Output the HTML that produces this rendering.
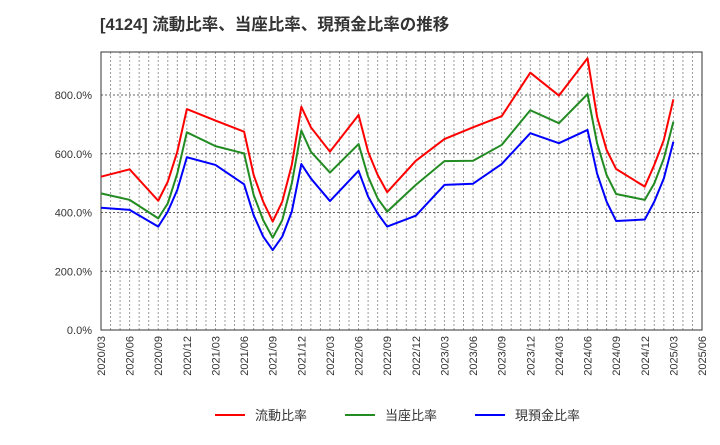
<!DOCTYPE html>
<html><head><meta charset="utf-8"><style>
body{margin:0;background:#fff;font-family:"Liberation Sans","Noto Sans CJK JP",sans-serif;}
</style></head><body>
<svg width="720" height="440" xmlns="http://www.w3.org/2000/svg">
<text x="100" y="30" font-size="16.5" font-weight="bold" fill="#333" font-family="Liberation Sans, Noto Sans CJK JP, sans-serif">[4124]  流動比率、当座比率、現預金比率の推移</text>
<g id="grid"></g>
<g id="axes"></g>
<g id="series"></g>
<g id="legend"></g>
</svg>
<script>
const months=[0,3,6,7,8,9,12,15,16,17,18,19,20,21,22,24,27,28,29,30,33,36,39,42,45,48,51,52,53,54,57,58,59,60];
const currentRatio=[522,547,440,505,607,752,713,675,528,437,369,437,562,760,690,607,732,607,528,469,576,650,690,728,876,798,925,726,613,548,488,562,647,785];
const quickRatio=[465,443,380,431,533,673,626,601,460,374,314,374,499,679,607,536,633,522,448,403,494,575,576,630,748,704,803,636,528,463,443,499,584,709];
const cashRatio=[416,409,352,403,477,588,562,496,391,318,272,318,403,565,516,439,542,454,397,352,389,494,498,565,670,636,681,533,437,371,376,437,516,641];
const yTicks=[0,200,400,600,800];
const xLabels=["2020/03","2020/06","2020/09","2020/12","2021/03","2021/06","2021/09","2021/12","2022/03","2022/06","2022/09","2022/12","2023/03","2023/06","2023/09","2023/12","2024/03","2024/06","2024/09","2024/12","2025/03","2025/06"];
const seriesNames=["流動比率","当座比率","現預金比率"];
const colors=["#ff0000","#228b22","#0000ff"];
const L=101,R=702,T=52,B=330,N=63;
const xs=m=>L+(R-L)*m/N;
const ys=v=>B-(B-95)*v/800;
const NS="http://www.w3.org/2000/svg";
function mk(tag,attrs,parent,text){const e=document.createElementNS(NS,tag);for(const k in attrs)e.setAttribute(k,attrs[k]);if(text!==undefined)e.textContent=text;parent.appendChild(e);return e;}
const grid=document.getElementById('grid'),axes=document.getElementById('axes'),ser=document.getElementById('series'),leg=document.getElementById('legend');
for(let m=1;m<N;m++){const l=mk('line',{x1:xs(m),x2:xs(m),y1:T,y2:B,stroke:'#999','stroke-dasharray':'2,2','stroke-width':1},grid);

}
yTicks.forEach(v=>{if(v>0){const l=mk('line',{x1:L,x2:R,y1:ys(v),y2:ys(v),stroke:'#666','stroke-dasharray':'2,2','stroke-width':1},grid);

}
const t=mk('text',{x:92,y:ys(v)+4,'font-size':11,'text-anchor':'end',fill:'#333'},axes,v.toFixed(1)+'%');

});
xLabels.forEach((s,i)=>{const x=xs(i*3);const t=mk('text',{x:0,y:0,'font-size':11,'text-anchor':'end',fill:'#333',transform:`translate(${x+4},336) rotate(-90)`},axes,s);

});
const fr=mk('rect',{x:L,y:T,width:R-L,height:B-T,fill:'none',stroke:'#333','stroke-width':1},axes);


[currentRatio,quickRatio,cashRatio].forEach((arr,si)=>{
const p=mk('polyline',{points:arr.map((v,i)=>xs(months[i])+','+ys(v)).join(' '),fill:'none',stroke:colors[si],'stroke-width':2,'stroke-linejoin':'round'},ser);


const lx=[215,345,475][si];
const ll=mk('line',{x1:lx,x2:lx+30,y1:415,y2:415,stroke:colors[si],'stroke-width':2},leg);


const lt=mk('text',{x:lx+40,y:420,'font-size':13,fill:'#333'},leg,seriesNames[si]);


});
</script>
</body></html>
